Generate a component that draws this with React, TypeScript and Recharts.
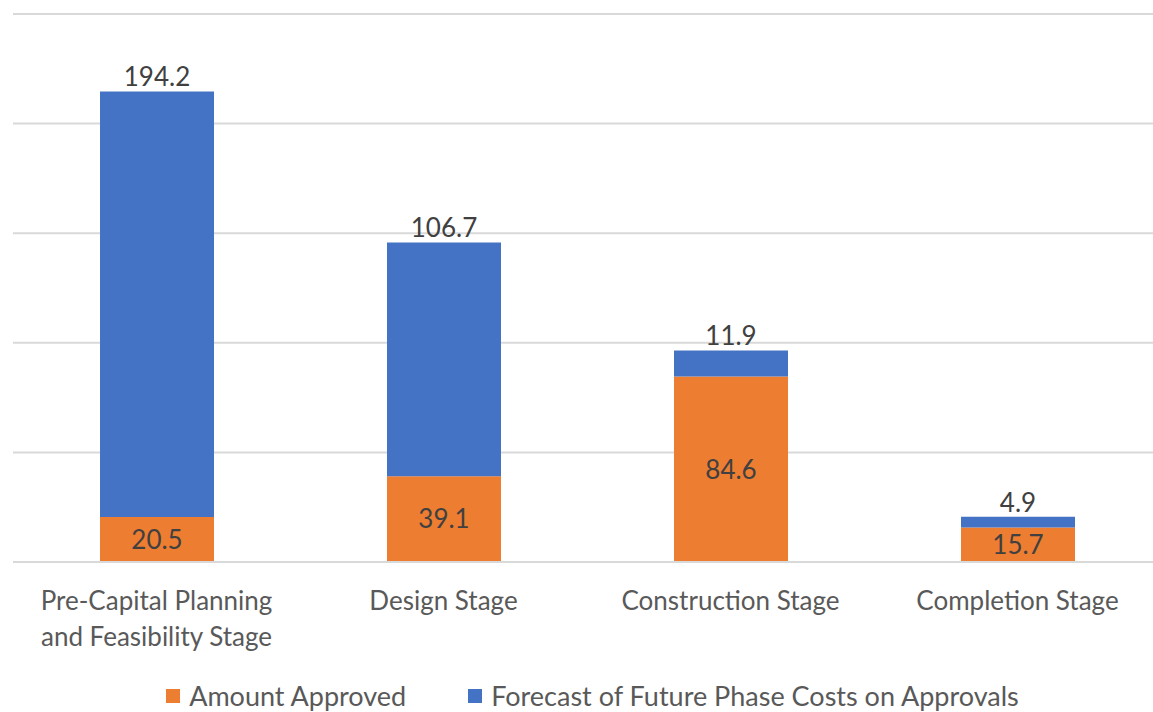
import React from "react";
import { Bar, BarChart, CartesianGrid, LabelList, Legend, XAxis, YAxis } from "recharts";

const categories = [
  "Pre-Capital Planning\nand Feasibility Stage",
  "Design Stage",
  "Construction Stage",
  "Completion Stage",
];
const amountApproved = [20.5, 39.1, 84.6, 15.7];
const forecastFuture = [194.2, 106.7, 11.9, 4.9];
const yTicks = [0, 50, 100, 150, 200, 250];

const data = categories.map((stage, i) => ({
  stage,
  approved: amountApproved[i],
  forecast: forecastFuture[i],
}));

const FONT = "Lato, 'Open Sans', sans-serif";

function StageTick(props: any) {
  const { x, y, payload } = props;
  const lines = String(payload.value).split("\n");
  return (
    <g transform={`translate(${x},${y})`}>
      {lines.map((line: string, i: number) => (
        <text
          key={i}
          x={0}
          y={40 + i * 36}
          textAnchor="middle"
          fill="#595959"
          fontSize={26}
          fontFamily={FONT}
        >
          {line}
        </text>
      ))}
    </g>
  );
}

function LegendContent(props: any) {
  const { payload } = props;
  return (
    <div
      style={{
        height: 50,
        boxSizing: "border-box",
        display: "flex",
        alignItems: "flex-end",
        justifyContent: "center",
        gap: 62,
        fontFamily: FONT,
        fontSize: 27,
        lineHeight: "32px",
        color: "#595959",
        paddingLeft: 11,
      }}
    >
      {payload.map((p: any) => (
        <div key={p.value} style={{ display: "flex", alignItems: "center", gap: 9 }}>
          <span style={{ width: 14, height: 14, background: p.color, display: "inline-block" }} />
          <span>{p.value}</span>
        </div>
      ))}
    </div>
  );
}

export default function App() {
  return (
    <div style={{ position: "absolute", left: 0, top: 0, width: 1153, height: 712, overflow: "hidden", background: "#fff" }}>
      <BarChart
        width={1161}
        height={712}
        data={data}
        margin={{ top: 14, right: 0, bottom: 0, left: 13 }}
      >
        <CartesianGrid vertical={false} stroke="#d9d9d9" strokeWidth={2} />
        <XAxis
          dataKey="stage"
          tick={<StageTick />}
          tickLine={false}
          axisLine={{ stroke: "#d9d9d9", strokeWidth: 2 }}
          height={100}
          interval={0}
        />
        <YAxis hide domain={[0, 250]} ticks={yTicks} />
        <Legend verticalAlign="bottom" height={50} content={<LegendContent />} />
        <Bar dataKey="approved" name="Amount Approved" stackId="a" fill="#ED7D31" barSize={114} isAnimationActive={false}>
          <LabelList dataKey="approved" position="center" fill="#404040" fontSize={26} fontFamily={FONT} />
        </Bar>
        <Bar dataKey="forecast" name="Forecast of Future Phase Costs on Approvals" stackId="a" fill="#4472C4" barSize={114} isAnimationActive={false}>
          <LabelList dataKey="forecast" position="top" offset={5} fill="#404040" fontSize={26} fontFamily={FONT} />
        </Bar>
      </BarChart>
    </div>
  );
}
